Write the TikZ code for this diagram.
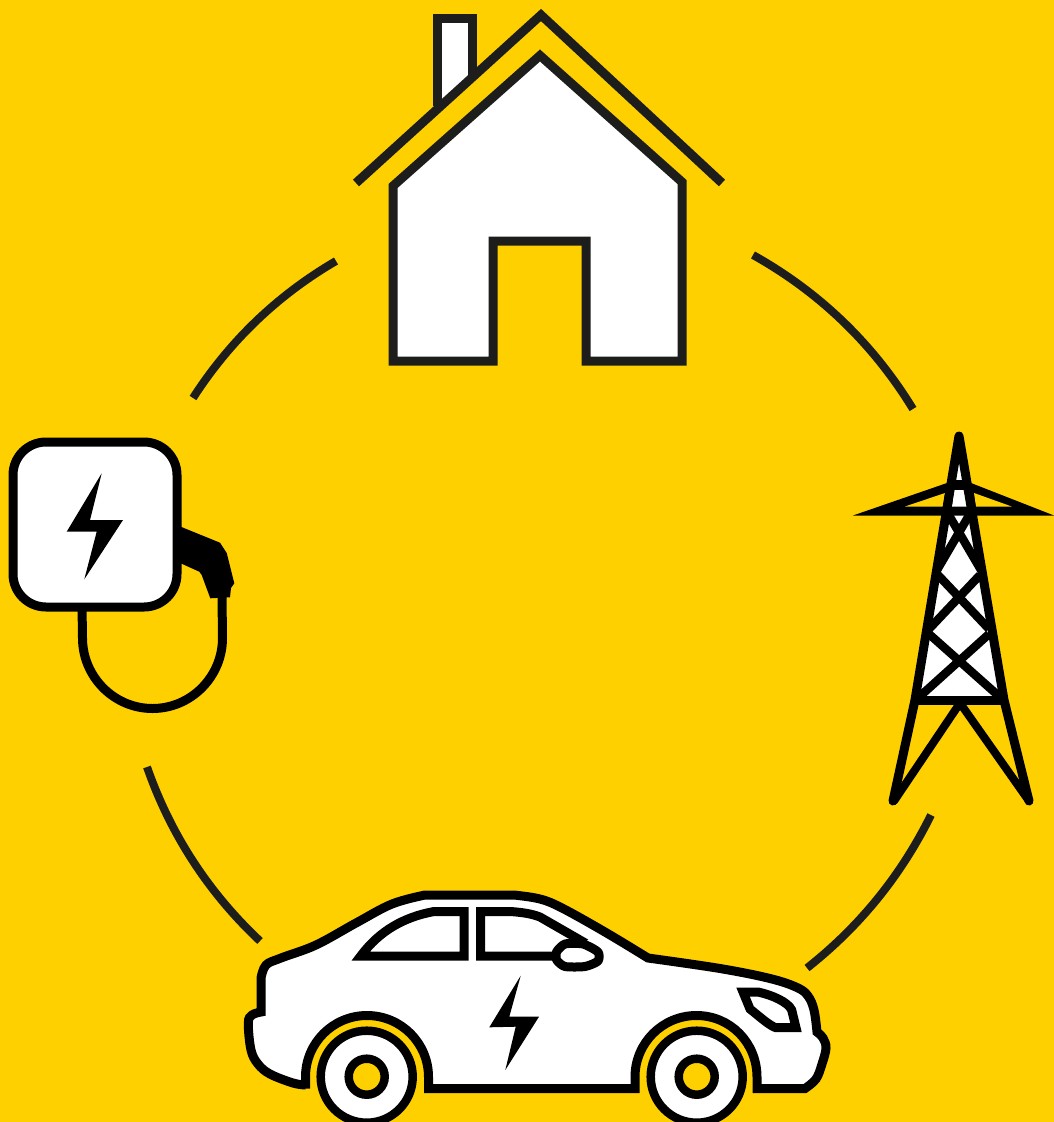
\documentclass[tikz,border=0pt]{standalone}
\definecolor{bgy}{HTML}{FFD000}
\definecolor{ink}{HTML}{1D1D1B}
\tikzset{
  ringarc/.style={draw=ink,line width=8pt},
  house/.style={draw=ink,line width=9pt,fill=white},
  roofline/.style={draw=ink,line width=9pt},
  thick8/.style={draw=black,line width=9pt,fill=white,miter limit=6},
  brace/.style={draw=black,line width=8.5pt},
  bolt/.style={fill=black},
  whl/.style={draw=black,line width=8.5pt,fill=white},
  hub/.style={draw=black,line width=8.5pt,fill=bgy}
}
\begin{document}
\begin{tikzpicture}[x=1pt,y=-1pt]
\useasboundingbox (0,0) rectangle (1054,1122);
\clip (0,0) rectangle (1054,1122);
\fill[bgy] (0,0) rectangle (1054,1122);

% ring arcs
\draw[ringarc] (193,398) .. controls (229.7,341) and (277.3,295.3) .. (336,261);
\draw[ringarc] (753,255) .. controls (819.7,292.3) and (873,343.7) .. (913,409);
\draw[ringarc] (931,815) .. controls (901.2,875.3) and (859.9,926.3) .. (807,968);
\draw[ringarc] (147,767) .. controls (170.5,834.2) and (208.1,892.2) .. (260,941);

% house
\draw[house] (437.5,106) -- (437.5,18.5) -- (472,18.5) -- (472,78);
\draw[roofline] (356,183) -- (541,15) -- (722,183);
\draw[house] (393,186) -- (540,55.5) -- (682,182) -- (682,361) -- (586,361) -- (586,241) -- (493,241) -- (493,361) -- (393,361) -- cycle;

% charger
\fill[black] (176,525) -- (180.7,526.7) -- (220,542.7) -- (226.7,553) -- (234.3,583.3) -- (231,588) -- (230,597.3) -- (210.3,598.3) -- (201.7,575) -- (199.3,571.7) -- (180.7,563.3) -- (176,562) -- cycle;
\draw[draw=black,line width=9pt] (82,605) -- (82.5,638) .. controls (82.5,676.6) and (113.9,708.5) .. (152.5,708.5) .. controls (191.1,708.5) and (222.5,676.6) .. (222.5,638) -- (222,596);
\draw[thick8,rounded corners=33pt] (13,442) rectangle (177,607);
\fill[bolt] (101.7,473.3) -- (90,520) -- (123,520) -- (84.3,579.3) -- (96.7,531.7) -- (66.7,531.7) -- cycle;

% tower
\fill[white] (959,436) -- (1003,700) -- (916,700) -- cycle;
\fill[black] (853,515.5) -- (947,483) -- (957,480) -- (961,480) -- (971,483) -- (1054,515.5) -- cycle;
\fill[bgy] (905,506.5) -- (945,493) -- (943,506.5) -- cycle;
\fill[bgy] (1011.7,506.5) -- (974,493) -- (976,506.5) -- cycle;
\fill[white] (954,490) -- (965,490) -- (967,506.5) -- (952,506.5) -- cycle;
\draw[brace] (947,512) -- (981,570);
\draw[brace] (971,512) -- (937,570);
\draw[brace] (938,575) -- (989,629);
\draw[brace] (980,575) -- (929,629);
\draw[brace] (929,634) -- (1001,698);
\draw[brace] (989,634) -- (918,698);
\draw[draw=black,line width=9pt,line join=round,line cap=round] (893,801) -- (915,700) -- (959,436) -- (1004,700) -- (1029,801);
\draw[draw=black,line width=9pt] (915,700) -- (1004,700);
\draw[draw=black,line width=8pt,line cap=round] (894,801) -- (960,703) -- (1029,801);

% car
\draw[thick8] (305.5,1088.5) -- (305.5,1077)
  .. controls (305.5,1043) and (333,1015.5) .. (367,1015.5)
  .. controls (401,1015.5) and (428.5,1043) .. (428.5,1077)
  -- (428.5,1088.5) -- (635,1088.5) -- (635,1077)
  .. controls (635,1043) and (662.5,1015.5) .. (696.5,1015.5)
  .. controls (730.5,1015.5) and (757,1043) .. (757,1077)
  -- (757,1088.5) -- (805,1088.5)
  -- plot[smooth,tension=.6] coordinates {(805,1088.5) (816,1079) (822,1064) (826,1048) (823,1038) (817,1032)}
  -- plot[smooth,tension=.6] coordinates {(817,1032) (814,1010) (808,996) (797,987.5) (770,978.5) (720,968.5) (648,958)}
  -- plot[smooth,tension=.6] coordinates {(648,958) (605,932) (562,908) (540,899) (514,895)}
  -- (425,895)
  -- plot[smooth,tension=.6] coordinates {(425,895) (392,904) (356,923) (316,945) (281,958) (266,965) (261,978)}
  -- (261,1012)
  -- plot[smooth,tension=.6] coordinates {(261,1012) (252,1015) (248.3,1023) (251,1050) (258,1064) (270,1074) (293,1083) (305.5,1085)}
  -- cycle;
\draw[thick8] (360.7,956) -- (464,956) -- (464,911.7) -- (433,911.7) .. controls (405,917) and (380,930) .. (360.7,956) -- cycle;
\draw[thick8] (480.7,911.7) -- (480.7,956) -- (558,956) -- (580,940) -- (540,917) .. controls (531,913.5) and (522,912.5) .. (513,911.7) -- cycle;
\draw[thick8,line join=round] plot[smooth cycle,tension=.4] coordinates {(556.7,951.7) (565,944) (583,944) (598,952) (598,961) (585,966.5) (565,966.5) (556.7,960)};
\draw[thick8] (743,992) -- (758,992) .. controls (772,995) and (788,1002) .. (791.7,1010) -- (796,1027.7) -- (776,1027.7) .. controls (770,1026) and (760,1017) .. (750,1009) -- cycle;
\fill[bolt] (520.7,975.7) -- (509.3,1016.7) -- (539,1016.7) -- (505.3,1070) -- (515.7,1026.7) -- (489.3,1027.3) -- cycle;

% wheels
\draw[whl] (366.7,1076.7) circle[radius=46pt];
\draw[hub] (366.7,1076.7) circle[radius=18pt];
\draw[whl] (696.7,1076.7) circle[radius=46pt];
\draw[hub] (696.7,1076.7) circle[radius=18pt];
\end{tikzpicture}
\end{document}
